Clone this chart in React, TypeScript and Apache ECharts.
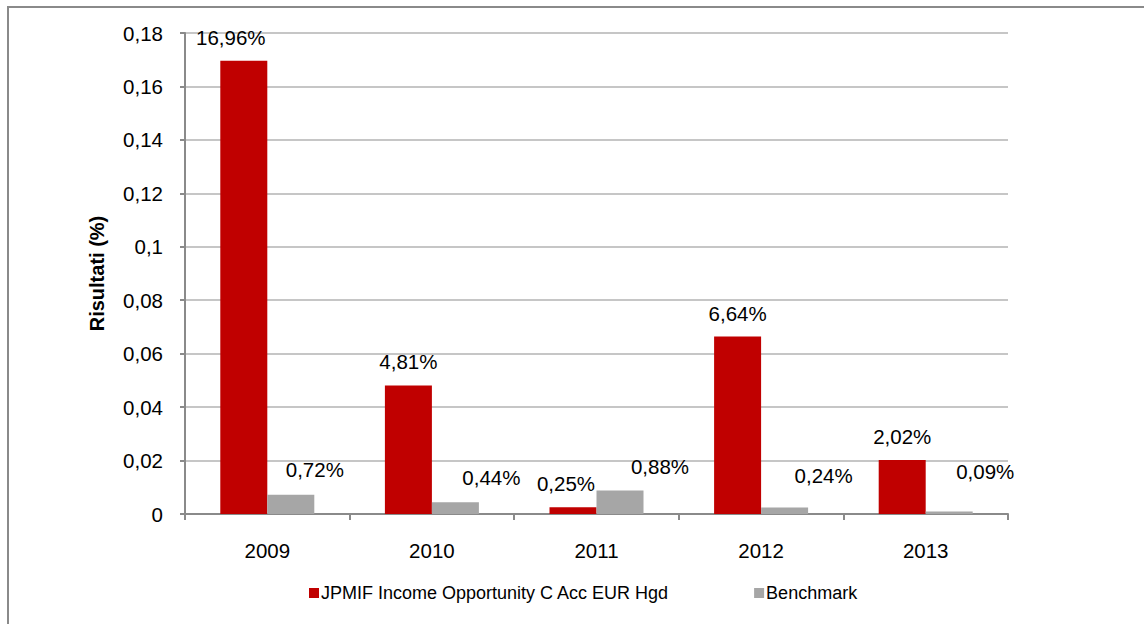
import React, { useEffect, useRef } from "react";
import * as echarts from "echarts";

const categories = ["2009", "2010", "2011", "2012", "2013"];
const fundValues = [0.1696, 0.0481, 0.0025, 0.0664, 0.0202];
const benchValues = [0.0072, 0.0044, 0.0088, 0.0024, 0.0009];
const fundLabels = ["16,96%", "4,81%", "0,25%", "6,64%", "2,02%"];
const benchLabels = ["0,72%", "0,44%", "0,88%", "0,24%", "0,09%"];
const fundName = "JPMIF Income Opportunity C Acc EUR Hgd";
const benchName = "Benchmark";
const yMin = 0;
const yMax = 0.18;
const yStep = 0.02;

const fundOffsets = [[-13, 0], [0, 0], [-7, 0], [0, 0], [0, 0]];
const benchOffsets = [[24, -2], [36, -1], [40, 0], [39, -9], [36, -17]];

const FONT = "'Liberation Sans', Arial, sans-serif";

export default function App() {
  const ref = useRef<HTMLDivElement>(null);
  useEffect(() => {
    if (!ref.current) return;
    const chart = echarts.init(ref.current, undefined, { renderer: "svg" });
    const labelBase = {
      show: true,
      position: "top",
      distance: 13,
      fontSize: 20.5,
      fontFamily: FONT,
      color: "#000",
    };
    chart.setOption({
      animation: false,
      backgroundColor: "#fff",
      textStyle: { fontFamily: FONT },
      graphic: [
        {
          type: "rect",
          shape: { x: 8, y: 7, width: 1200, height: 700 },
          style: { fill: "none", stroke: "#8a8a8a", lineWidth: 2 },
          silent: true,
        },
      ],
      grid: { left: 185, right: 136, top: 33, bottom: 110, containLabel: false },
      legend: {
        bottom: 17,
        left: 304,
        icon: "rect",
        itemWidth: 10,
        itemHeight: 10,
        itemGap: 85,
        textStyle: { fontSize: 18, fontFamily: FONT, color: "#000", padding: [0, 0, 0, -3] },
        data: [fundName, benchName],
      },
      xAxis: {
        type: "category",
        data: categories,
        axisLine: { show: true, lineStyle: { color: "#8a8a8a", width: 2 } },
        axisTick: { show: true, length: 6, alignWithLabel: false, lineStyle: { color: "#8a8a8a", width: 2 } },
        axisLabel: { fontSize: 20.5, color: "#000", margin: 26, fontFamily: FONT },
      },
      yAxis: {
        type: "value",
        min: yMin,
        max: yMax,
        interval: yStep,
        name: "Risultati (%)",
        nameLocation: "middle",
        nameRotate: 90,
        nameGap: 78,
        nameTextStyle: { fontSize: 20, fontWeight: "bold", color: "#000", fontFamily: FONT },
        axisLine: { show: true, lineStyle: { color: "#8a8a8a", width: 2 } },
        axisTick: { show: true, length: 5, inside: false, lineStyle: { color: "#8a8a8a", width: 2 } },
        axisLabel: {
          fontSize: 20.5,
          color: "#000",
          margin: 22,
          fontFamily: FONT,
          formatter: (v: number) => String(Number(v.toFixed(2))).replace(".", ","),
        },
        splitLine: { show: true, lineStyle: { color: "#c6c6c6", width: 2 } },
      },
      series: [
        {
          name: fundName,
          type: "bar",
          barWidth: 47,
          barGap: "0%",
          itemStyle: { color: "#C00000" },
          data: fundValues.map((v, i) => ({
            value: v,
            label: { ...labelBase, offset: fundOffsets[i], formatter: () => fundLabels[i] },
          })),
        },
        {
          name: benchName,
          type: "bar",
          barWidth: 47,
          barGap: "0%",
          itemStyle: { color: "#A6A6A6" },
          data: benchValues.map((v, i) => ({
            value: v,
            label: { ...labelBase, offset: benchOffsets[i], formatter: () => benchLabels[i] },
          })),
        },
      ],
    });
    return () => chart.dispose();
  }, []);
  return (
    <div
      ref={ref}
      style={{ position: "fixed", left: 0, top: 0, width: 1144, height: 624 }}
    />
  );
}
